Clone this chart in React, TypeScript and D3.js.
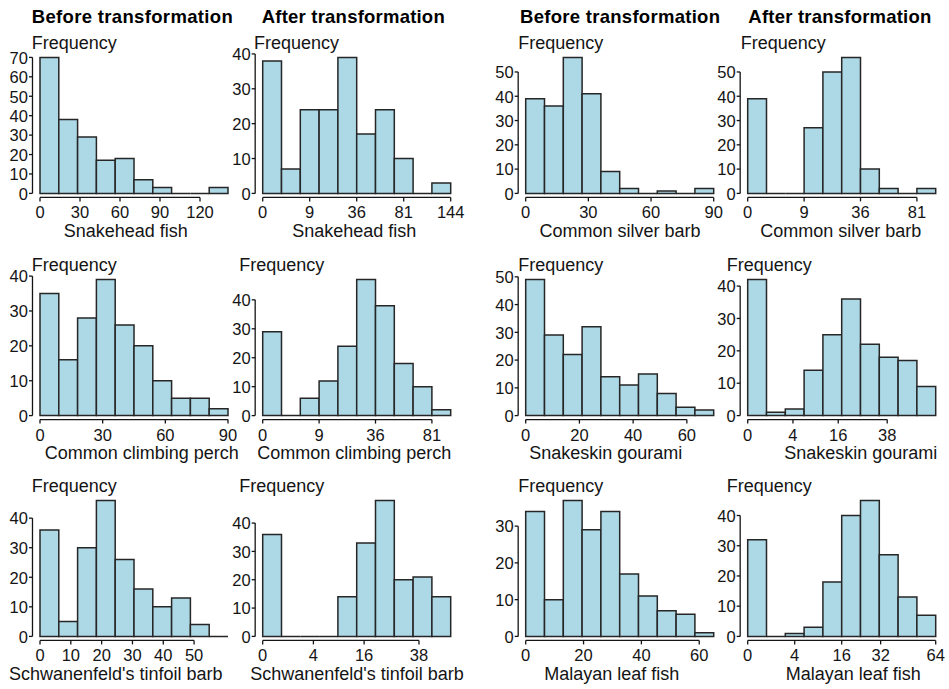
import React from "react";
import * as d3 from "d3";

// Column headings and species names
const headings = ["Before transformation", "After transformation"];
const species = [
  "Snakehead fish",
  "Common silver barb",
  "Common climbing perch",
  "Snakeskin gourami",
  "Schwanenfeld's tinfoil barb",
  "Malayan leaf fish",
];

// Histogram counts (10 equal bins each)
const snakeheadBefore = [70, 38, 29, 17, 18, 7, 3, 0, 0, 3];
const snakeheadAfter = [38, 7, 24, 24, 39, 17, 24, 10, 0, 3];
const silverBarbBefore = [39, 36, 56, 41, 9, 2, 0, 1, 0, 2];
const silverBarbAfter = [39, 0, 0, 27, 50, 56, 10, 2, 0, 2];
const climbingPerchBefore = [35, 16, 28, 39, 26, 20, 10, 5, 5, 2];
const climbingPerchAfter = [29, 0, 6, 12, 24, 47, 38, 18, 10, 2];
const gouramiBefore = [49, 29, 22, 32, 14, 11, 15, 8, 3, 2];
const gouramiAfter = [42, 1, 2, 14, 25, 36, 22, 18, 17, 9];
const tinfoilBefore = [36, 5, 30, 46, 26, 16, 10, 13, 4, 0];
const tinfoilAfter = [36, 0, 0, 0, 14, 33, 48, 20, 21, 14];
const leafFishBefore = [34, 10, 37, 29, 34, 17, 11, 7, 6, 1];
const leafFishAfter = [32, 0, 1, 3, 18, 40, 45, 27, 13, 7];

// Upper limit of the binned range (original units)
const binUpper = [141, 144, 90, 100, 90, 100, 70, 69, 61, 55, 65, 64];

// X tick labels (original units; "after" panels use a square-root axis)
const snakeheadBeforeTicks = [0, 30, 60, 90, 120];
const snakeheadAfterTicks = [0, 9, 36, 81, 144];
const silverBarbBeforeTicks = [0, 30, 60, 90];
const silverBarbAfterTicks = [0, 9, 36, 81];
const climbingPerchBeforeTicks = [0, 30, 60, 90];
const climbingPerchAfterTicks = [0, 9, 36, 81];
const gouramiBeforeTicks = [0, 20, 40, 60];
const gouramiAfterTicks = [0, 4, 16, 38];
const tinfoilBeforeTicks = [0, 10, 20, 30, 40, 50];
const tinfoilAfterTicks = [0, 4, 16, 38];
const leafFishBeforeTicks = [0, 20, 40, 60];
const leafFishAfterTicks = [0, 4, 16, 32, 64];

type Panel = {
  label: string;
  sqrt: boolean;
  counts: number[];
  upper: number;
  xTicks: number[];
};

const panels: Panel[] = [
  { label: species[0], sqrt: false, counts: snakeheadBefore, upper: binUpper[0], xTicks: snakeheadBeforeTicks },
  { label: species[0], sqrt: true, counts: snakeheadAfter, upper: binUpper[1], xTicks: snakeheadAfterTicks },
  { label: species[1], sqrt: false, counts: silverBarbBefore, upper: binUpper[2], xTicks: silverBarbBeforeTicks },
  { label: species[1], sqrt: true, counts: silverBarbAfter, upper: binUpper[3], xTicks: silverBarbAfterTicks },
  { label: species[2], sqrt: false, counts: climbingPerchBefore, upper: binUpper[4], xTicks: climbingPerchBeforeTicks },
  { label: species[2], sqrt: true, counts: climbingPerchAfter, upper: binUpper[5], xTicks: climbingPerchAfterTicks },
  { label: species[3], sqrt: false, counts: gouramiBefore, upper: binUpper[6], xTicks: gouramiBeforeTicks },
  { label: species[3], sqrt: true, counts: gouramiAfter, upper: binUpper[7], xTicks: gouramiAfterTicks },
  { label: species[4], sqrt: false, counts: tinfoilBefore, upper: binUpper[8], xTicks: tinfoilBeforeTicks },
  { label: species[4], sqrt: true, counts: tinfoilAfter, upper: binUpper[9], xTicks: tinfoilAfterTicks },
  { label: species[5], sqrt: false, counts: leafFishBefore, upper: binUpper[10], xTicks: leafFishBeforeTicks },
  { label: species[5], sqrt: true, counts: leafFishAfter, upper: binUpper[11], xTicks: leafFishAfterTicks },
];

// Layout
const WIDTH = 949;
const HEIGHT = 689;
const COL_X0 = [40, 262.7, 525.7, 747.7];
const ROW_ZERO = [193.4, 415.6, 636.4];
const PLOT_W = 188;
const PLOT_H = 136;
const FREQ_X = [31.7, 254, 518.3, 740.7, 31.7, 239.3, 518.3, 726.7, 31.7, 239.3, 518.3, 726.7];
const LABEL_CX = [125.8, 354.3, 620, 840.8, 141.7, 354.2, 605.8, 860.8, 115.8, 357, 611.7, 853.3];
const HEAD_X = [31.7, 261.7, 520, 748.3];
const HEAD_W = [201, 183, 200, 183];

const FONT = "'Liberation Sans', Arial, Helvetica, sans-serif";
const INK = "#141414";
const FILL = "#ADD8E6";

function Histogram({ p, i }: { p: Panel; i: number }) {
  const col = i % 4;
  const row = Math.floor(i / 4);
  const x0 = COL_X0[col];
  const zero = ROW_ZERO[row];
  const x = (p.sqrt ? d3.scaleSqrt() : d3.scaleLinear())
    .domain([0, p.upper])
    .range([x0, x0 + PLOT_W]);
  const ymax = d3.max(p.counts) as number;
  const y = d3.scaleLinear().domain([0, ymax]).range([zero, zero - PLOT_H]);
  const n = p.counts.length;
  const fwd = p.sqrt ? Math.sqrt : (v: number) => v;
  const inv = p.sqrt ? (v: number) => v * v : (v: number) => v;
  const edges = d3.range(n + 1).map((k) => inv((fwd(p.upper) * k) / n));
  const yTicks = d3.range(0, ymax * 1.04 + 1e-9, 10);
  const axisX = x0 - 0.04 * PLOT_W;
  const axisY = zero + 4;

  return (
    <g>
      {p.counts.map((c, k) => {
        const a = x(edges[k]);
        const b = x(edges[k + 1]);
        return (
          <path
            key={k}
            d={`M${a},${y(0)}V${y(c)}H${b}V${y(0)}Z`}
            fill={FILL}
            stroke="#262626"
            strokeWidth={1.5}
            strokeLinejoin="miter"
          />
        );
      })}
      {/* y axis */}
      <line x1={axisX} x2={axisX} y1={y(0)} y2={y(yTicks[yTicks.length - 1])} stroke={INK} strokeWidth={1.3} />
      {yTicks.map((t) => (
        <g key={t}>
          <line x1={axisX - 3.5} x2={axisX} y1={y(t)} y2={y(t)} stroke={INK} strokeWidth={1.3} />
          <text x={axisX - 4.5} y={y(t)} dy="0.38em" textAnchor="end" fontSize={16.5} fontFamily={FONT} fill={INK}>
            {t}
          </text>
        </g>
      ))}
      {/* x axis */}
      <line
        x1={x(p.xTicks[0])}
        x2={x(p.xTicks[p.xTicks.length - 1])}
        y1={axisY}
        y2={axisY}
        stroke={INK}
        strokeWidth={1.3}
      />
      {p.xTicks.map((t) => (
        <g key={t}>
          <line x1={x(t)} x2={x(t)} y1={axisY} y2={axisY + 4} stroke={INK} strokeWidth={1.3} />
          <text x={x(t)} y={zero + 25} textAnchor="middle" fontSize={16.5} fontFamily={FONT} fill={INK}>
            {t}
          </text>
        </g>
      ))}
      <text x={FREQ_X[i]} y={zero - PLOT_H - 8.5} fontSize={18} fontFamily={FONT} fill={INK}>
        Frequency
      </text>
      <text x={LABEL_CX[i]} y={zero + 43.4} textAnchor="middle" fontSize={18} fontFamily={FONT} fill={INK}>
        {p.label}
      </text>
    </g>
  );
}

export default function App() {
  return (
    <svg
      width={WIDTH}
      height={HEIGHT}
      viewBox={`0 0 ${WIDTH} ${HEIGHT}`}
      style={{ position: "absolute", left: 0, top: 0, background: "#fff" }}
    >
      <rect width={WIDTH} height={HEIGHT} fill="#fff" />
      {HEAD_X.map((hx, c) => (
        <text
          key={c}
          x={hx}
          y={23}
          fontSize={18.5}
          fontWeight="bold"
          fontFamily={FONT}
          fill="#000"
          textLength={HEAD_W[c]}
          lengthAdjust="spacing"
        >
          {headings[c % 2]}
        </text>
      ))}
      {panels.map((p, i) => (
        <Histogram key={i} p={p} i={i} />
      ))}
    </svg>
  );
}
